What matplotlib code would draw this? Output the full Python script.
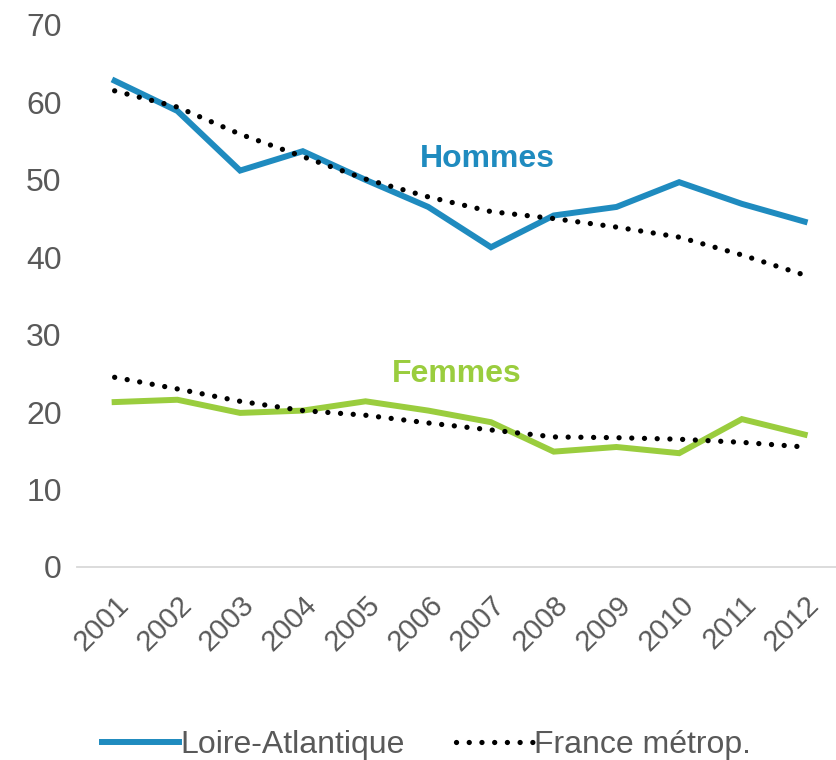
import numpy as np
import matplotlib.pyplot as plt

plt.rcParams['font.family'] = ['Liberation Sans', 'DejaVu Sans']

years = ['2001', '2002', '2003', '2004', '2005', '2006',
         '2007', '2008', '2009', '2010', '2011', '2012']

# taux pour 100 000 (lecture du graphique)
hommes_la = [62.8, 58.9, 51.2, 53.7, 50.0, 46.5, 41.3, 45.4, 46.5, 49.7, 46.9, 44.6]
hommes_fr = [61.5, 59.4, 55.9, 53.0, 50.1, 47.8, 45.9, 45.0, 43.9, 42.6, 40.3, 37.7]
femmes_la = [21.3, 21.6, 19.9, 20.2, 21.4, 20.2, 18.7, 14.9, 15.5, 14.7, 19.1, 17.1]
femmes_fr = [24.5, 23.0, 21.4, 20.2, 19.6, 18.6, 17.7, 16.8, 16.7, 16.5, 16.1, 15.5]

blue = '#1f8bbf'
green = '#9acd3e'
grey = '#595959'
fs = 23

fig = plt.figure(figsize=(8.37, 7.6), dpi=100)
ax = fig.add_axes([77 / 837, 1 - 567 / 760, (836 - 77) / 837, (567 - 25) / 760])

x = np.arange(len(years))
dot = dict(color='black', lw=3.8, linestyle=(0, (0.01, 2.4)), dash_capstyle='round')

l1, = ax.plot(x, hommes_la, color=blue, lw=4.3, solid_joinstyle='miter')
l2, = ax.plot(x, hommes_fr, **dot)
ax.plot(x, femmes_la, color=green, lw=4.3, solid_joinstyle='miter')
ax.plot(x, femmes_fr, **dot)

ax.text(5.95, 52.7, 'Hommes', color=blue, fontsize=fs, fontweight='bold', ha='center', va='center')
ax.text(5.45, 24.9, 'Femmes', color=green, fontsize=fs, fontweight='bold', ha='center', va='center')

ax.set_xlim(-0.6, 11.5)
ax.set_ylim(0, 70)
ax.set_yticks(range(0, 71, 10))
ax.set_xticks(x)
ax.set_xticklabels(years, rotation=45, ha='right', rotation_mode='anchor')
ax.tick_params(axis='both', length=0, labelsize=fs, labelcolor=grey)
ax.tick_params(axis='x', labelsize=21, pad=17)
ax.tick_params(axis='y', pad=11)
for s in ['top', 'right', 'left']:
    ax.spines[s].set_visible(False)
ax.spines['bottom'].set_color('#d9d9d9')
ax.spines['bottom'].set_linewidth(1.3)

fig.legend([l1, l2], ['Loire-Atlantique', 'France métrop.'], loc='center',
           bbox_to_anchor=(0.51, 1 - 745 / 760), ncol=2, frameon=False,
           fontsize=fs, labelcolor=grey, handlelength=2.4, handletextpad=0.05,
           columnspacing=1.6)

fig.savefig('out.png', dpi=100)
